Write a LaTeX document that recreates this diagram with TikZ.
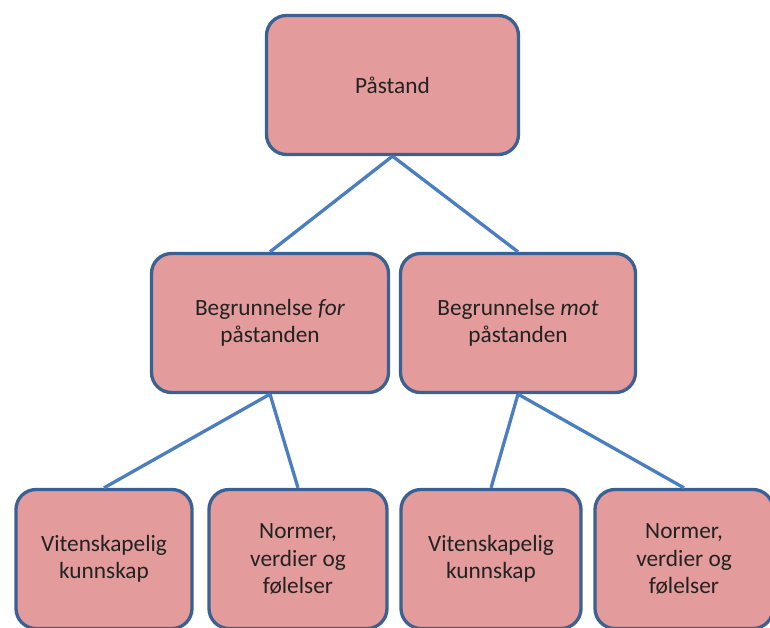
\documentclass[tikz,border=0pt]{standalone}
\usepackage{fontspec}
\setmainfont{Carlito}
\definecolor{boxfill}{HTML}{E39B9B}
\definecolor{boxdraw}{HTML}{3A6192}
\definecolor{linkc}{HTML}{4A7EC0}
\definecolor{txt}{HTML}{222222}
\begin{document}
\begin{tikzpicture}[x=1pt,y=-1pt,
  box/.style={draw=boxdraw, fill=boxfill, line width=3.3pt, rounded corners=20pt,
    minimum height=139pt, align=center, text=txt, inner sep=0pt,
    font=\fontsize{23.3}{27.5}\selectfont},
  link/.style={draw=linkc, line width=3.3pt}]
\useasboundingbox (0,0) rectangle (770,627);
\node[box, minimum width=252pt] (top) at (392.5,85) {Påstand};
\node[box, minimum width=237pt] (ml) at (270,323) {Begrunnelse \textit{for}\\påstanden};
\node[box, minimum width=235pt] (mr) at (518,323) {Begrunnelse \textit{mot}\\påstanden};
\node[box, minimum width=176pt] (b1) at (104,559) {Vitenskapelig\\kunnskap};
\node[box, minimum width=178pt] (b2) at (298,559) {Normer,\\verdier og\\følelser};
\node[box, minimum width=180pt] (b3) at (491,559) {Vitenskapelig\\kunnskap};
\node[box, minimum width=178pt] (b4) at (684,559) {Normer,\\verdier og\\følelser};
\draw[link] (top.south) -- (ml.north);
\draw[link] (top.south) -- (mr.north);
\draw[link] (ml.south) -- (b1.north);
\draw[link] (ml.south) -- (b2.north);
\draw[link] (mr.south) -- (b3.north);
\draw[link] (mr.south) -- (b4.north);
\end{tikzpicture}
\end{document}
